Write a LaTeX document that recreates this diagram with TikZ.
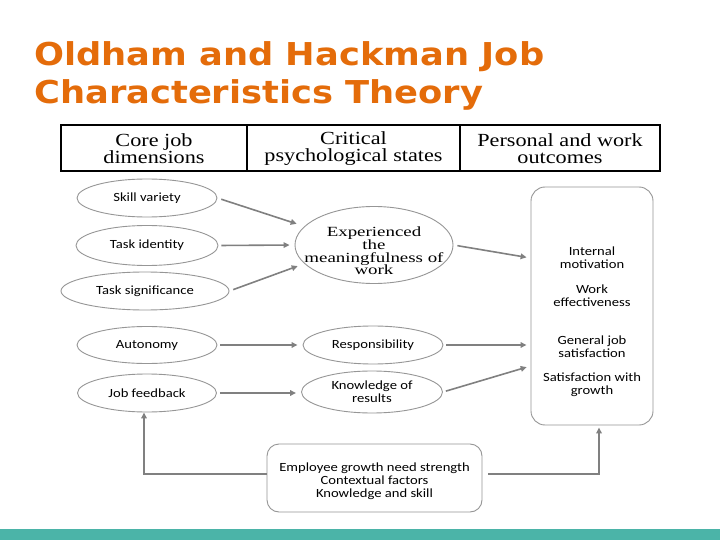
\documentclass[tikz,border=0pt]{standalone}
\usepackage{fontspec}
\usetikzlibrary{arrows.meta,shapes.geometric,calc}
\newfontfamily\titlefont[FakeStretch=1.12]{DejaVu Sans}
\newfontfamily\hdrfont[FakeStretch=1.2]{Liberation Serif}
\newfontfamily\expfont[FakeStretch=1.35]{Liberation Serif}
\newfontfamily\lblfont[FakeStretch=1.17]{Carlito}
\newcommand\tightlines{\lineskiplimit=-50pt\relax}
\definecolor{titleorange}{RGB}{228,108,10}
\definecolor{barteal}{RGB}{75,180,168}
\definecolor{arrgray}{RGB}{128,128,128}
\definecolor{edgegray}{RGB}{150,150,150}
\begin{document}
\begin{tikzpicture}[x=1pt,y=-1pt,
  oval/.style={ellipse, draw=edgegray, line width=0.9pt, inner sep=0pt, align=center,
    font={\lblfont\fontsize{12.5}{13}\selectfont\tightlines}},
  lbl/.style={inner sep=0pt, align=center, font={\lblfont\fontsize{12.5}{13}\selectfont\tightlines}},
  hdr/.style={inner sep=0pt, align=center, font={\hdrfont\fontsize{18.5}{17}\selectfont\tightlines}},
  rbox/.style={draw=edgegray, line width=0.9pt, rounded corners=14pt, inner sep=0pt},
  arr/.style={draw=arrgray, line width=1.6pt, -{Triangle[length=6pt,width=5.5pt]}},
  ttl/.style={anchor=base west, inner sep=0pt, text=titleorange,
    font={\titlefont\bfseries\fontsize{31.5}{38}\selectfont}}]
\useasboundingbox[fill=white] (0,0) rectangle (720,540);

% title
\node[ttl] (title1) at (34,66) {Oldham and Hackman Job};
\node[ttl] (title2) at (34,104) {Characteristics Theory};

% header table
\draw[line width=2pt] (61,125) rectangle (660,171);
\draw[line width=1.4pt] (247,125) -- (247,171) (460,125) -- (460,171);
\node[hdr] (h1) at (154,149) {Core job\\dimensions};
\node[hdr] (h2) at (353.5,149) {Critical\\psychological states};
\node[hdr] (h3) at (560,149) {Personal and work\\outcomes};

% core job dimensions
\node[oval, minimum width=140pt, minimum height=38pt] (sv) at (147,198) {Skill variety};
\node[oval, minimum width=142pt, minimum height=40pt] (ti) at (147,245.5) {Task identity};
\node[oval, minimum width=168pt, minimum height=38pt] (ts) at (145,291) {Task significance};
\node[oval, minimum width=140pt, minimum height=37pt] (au) at (147,345) {Autonomy};
\node[oval, minimum width=139pt, minimum height=38pt] (jf) at (147,393) {Job feedback};

% critical psychological states
\node[oval, minimum width=158pt, minimum height=77pt] (exp) at (374,245) {};
\node[inner sep=0pt, align=center, font={\expfont\fontsize{14}{12.7}\selectfont\tightlines}]
  (exptxt) at (374,251) {Experienced\\the\\meaningfulness of\\work};
\node[oval, minimum width=140pt, minimum height=38pt] (resp) at (373,345) {Responsibility};
\node[oval, minimum width=141pt, minimum height=42pt] (kr) at (372,392) {Knowledge of\\results};

% outcomes box
\node[rbox, minimum width=122pt, minimum height=238pt] (out) at (592,306) {};
\node[lbl] (o1) at (592,258) {Internal\\motivation};
\node[lbl] (o2) at (592,295.5) {Work\\effectiveness};
\node[lbl] (o3) at (592,347) {General job\\satisfaction};
\node[lbl] (o4) at (592,385) {Satisfaction with\\growth};

% moderators box
\node[rbox, rounded corners=12pt, minimum width=215pt, minimum height=68pt] (mod) at (374.5,478) {};
\node[lbl] (modtxt) at (374.5,481) {Employee growth need strength\\Contextual factors\\Knowledge and skill};

% connectors
\coordinate (in1) at ($(out.west)+(0,-48)$);
\coordinate (in3) at ($(out.west)+(0,60)$);
\draw[arr, shorten <=4pt, shorten >=8pt] (sv.east) -- (exp.165);
\draw[arr, shorten <=3pt, shorten >=5pt] (ti.east) -- (exp.west);
\draw[arr, shorten <=4pt, shorten >=7pt] (ts.east) -- (exp.195);
\draw[arr, shorten <=3pt, shorten >=5pt] (au.east) -- (au.east -| resp.west);
\draw[arr, shorten <=3pt, shorten >=5pt] (jf.east) -- (jf.east -| kr.west);
\draw[arr, shorten <=4pt, shorten >=4pt] (exp.east) -- (in1);
\draw[arr, shorten <=3pt, shorten >=4pt] (resp.east) -- (resp.east -| out.west);
\draw[arr, shorten <=3pt, shorten >=4pt] (kr.east) -- (in3);
\draw[arr] ([yshift=4pt]mod.west) -| ([xshift=-3pt]jf.south);
\draw[arr, shorten <=6pt, shorten >=2pt] ([yshift=4pt]mod.east) -| ([xshift=7pt]out.south);

% bottom bar
\fill[barteal] (0,529) rectangle (720,540);
\end{tikzpicture}
\end{document}
